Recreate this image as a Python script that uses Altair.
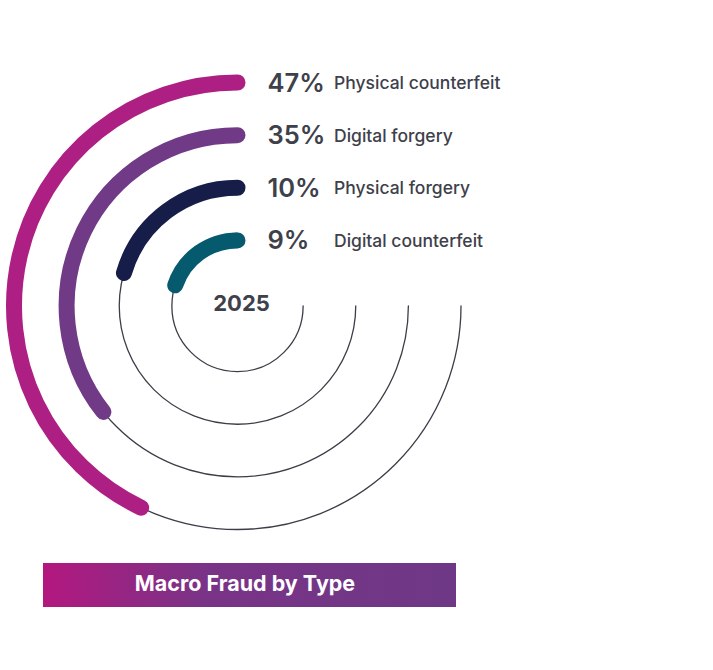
import math
import altair as alt
import pandas as pd

# Fraud mix by type (share of cases, %), outermost ring first
categories = ["Physical counterfeit", "Digital forgery", "Physical forgery", "Digital counterfeit"]
shares = [47, 35, 10, 9]
rings = [4, 3, 2, 1]
colors = ["#AE1F84", "#703A87", "#151D48", "#065A6E"]
year_label = "2025"
title_text = "Macro Fraud by Type"

TAU = 2 * math.pi
CX, CY = 237.5, 306
TEXT_COLOR = "#3E404A"
FONT = "Inter"

# the three-quarter track stands for 100%; bars keep a short minimum sweep
TRACK_SWEEP = 1.5 * math.pi
MIN_SWEEP = math.radians(52)

df = pd.DataFrame({
    "category": categories,
    "share": shares,
    "ring": rings,
})
df["label"] = [f"{v}%" for v in shares]

radius_scale = alt.Scale(type="linear", domain=[0, 4], range=[13, 223.5], zero=False, nice=False)
# bars sweep counter-clockwise from 12 o'clock
theta_scale = alt.Scale(
    type="linear", domain=[0, 100], range=[TAU - MIN_SWEEP, TAU - TRACK_SWEEP],
    zero=False, nice=False,
)

base = alt.Chart(df)

# thin three-quarter tracks behind the bars
tracks = base.mark_arc(
    filled=False, stroke="#3B3E48", strokeWidth=1.3, strokeJoin="round",
    theta=TAU - TRACK_SWEEP, theta2=TAU,
).encode(
    x=alt.value(CX), y=alt.value(CY),
    radius=alt.Radius("ring:Q", scale=radius_scale),
    radius2=alt.Radius2("ring:Q"),
)

bars = base.mark_arc(
    filled=False, strokeWidth=16, strokeJoin="round", strokeCap="round",
).encode(
    x=alt.value(CX), y=alt.value(CY),
    theta=alt.Theta("share:Q", scale=theta_scale, stack=None),
    theta2=alt.value(TAU),
    radius=alt.Radius("ring:Q", scale=radius_scale),
    radius2=alt.Radius2("ring:Q"),
    color=alt.Color("category:N", scale=alt.Scale(domain=categories, range=colors), legend=None),
)

pct_text = base.mark_text(
    theta=0, align="left", baseline="middle", dx=30, dy=1,
    font=FONT, fontSize=25.5, fontWeight=600, color=TEXT_COLOR,
).encode(
    x=alt.value(CX), y=alt.value(CY),
    radius=alt.Radius("ring:Q", scale=radius_scale),
    text="label:N",
)

name_text = base.mark_text(
    theta=0, align="left", baseline="middle", dx=96.5, dy=1.5,
    font=FONT, fontSize=17.5, fontWeight=500, color=TEXT_COLOR,
).encode(
    x=alt.value(CX), y=alt.value(CY),
    radius=alt.Radius("ring:Q", scale=radius_scale),
    text="category:N",
)

one = alt.Chart(pd.DataFrame({"t": [year_label], "title": [title_text]}))

center_text = one.mark_text(
    align="center", baseline="middle", dx=4, dy=-2,
    font=FONT, fontSize=22, fontWeight=700, color=TEXT_COLOR,
).encode(x=alt.value(CX), y=alt.value(CY), text="t:N")

banner = one.mark_rect(
    color=alt.Gradient(
        gradient="linear",
        stops=[
            alt.GradientStop(color="#B3177F", offset=0),
            alt.GradientStop(color="#7A3386", offset=0.38),
            alt.GradientStop(color="#6E3886", offset=1),
        ],
        x1=0, x2=1, y1=0, y2=0,
    )
).encode(x=alt.value(43), x2=alt.value(456), y=alt.value(563), y2=alt.value(607))

banner_text = one.mark_text(
    align="center", baseline="middle",
    font=FONT, fontSize=21.5, fontWeight=700, color="white",
).encode(x=alt.value(245), y=alt.value(585), text="title:N")

chart = alt.layer(
    tracks, bars, pct_text, name_text, center_text, banner, banner_text
).properties(
    width=713, height=670, autosize="none", padding=0,
).configure_view(stroke=None)

chart.save("out.html", embed_options={"renderer": "svg", "actions": False})
